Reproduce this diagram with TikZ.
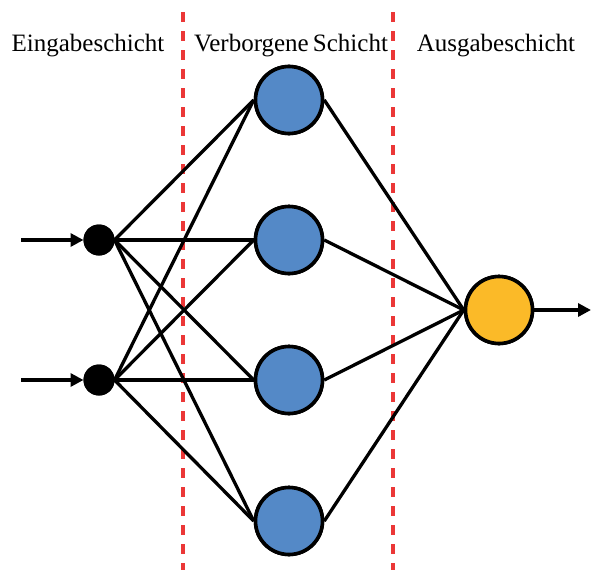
\documentclass[tikz,border=0pt]{standalone}
\usepackage{fontspec}
\setmainfont{Liberation Serif}
\usetikzlibrary{arrows.meta}
\definecolor{hidblue}{RGB}{84,137,199}
\definecolor{outorange}{RGB}{251,186,40}
\definecolor{sepred}{RGB}{235,55,55}
\begin{document}
\begin{tikzpicture}[x=1pt,y=-1pt,
  innode/.style={circle,fill=black,draw=black,line width=1pt,minimum size=30pt,inner sep=0pt},
  hidnode/.style={circle,fill=hidblue,draw=black,line width=3.6pt,minimum size=67pt,inner sep=0pt},
  outnode/.style={circle,fill=outorange,draw=black,line width=3.6pt,minimum size=67pt,inner sep=0pt},
  conn/.style={line width=3.3pt,black},
  arr/.style={line width=3.3pt,black,-{Triangle[length=13pt,width=13pt]}},
  sep/.style={line width=3.4pt,sepred,dash pattern=on 10pt off 9pt},
  lab/.style={font=\fontsize{25}{28}\selectfont,anchor=base,inner sep=0pt}]
\useasboundingbox (0,0) rectangle (591,570);
% separators
\coordinate (s1t) at (183,12); \coordinate (s1b) at (183,570);
\coordinate (s2t) at (393,12); \coordinate (s2b) at (393,570);
\draw[sep] (s1t) -- (s1b);
\draw[sep] (s2t) -- (s2b);
% labels
\node[lab] (l1) at (88,51) {Eingabeschicht};
\node[lab] (l2) at (291,51) {Verborgene\,Schicht};
\node[lab] (l3) at (496,51) {Ausgabeschicht};
% nodes (placed first for anchors)
\node[hidnode] (h1) at (289,100) {};
\node[hidnode] (h2) at (289,240) {};
\node[hidnode] (h3) at (289,380) {};
\node[hidnode] (h4) at (289,521) {};
\node[outnode] (o) at (499,310) {};
\node[innode] (i1) at (99,240) {};
\node[innode] (i2) at (99,380) {};
% connections
\foreach \h in {h1,h2,h3,h4}{
  \draw[conn] (i1.east) -- (\h.west);
  \draw[conn] (i2.east) -- (\h.west);
  \draw[conn] (\h.east) -- (o.west);
}
% redraw nodes on top
\node[hidnode] at (h1) {};
\node[hidnode] at (h2) {};
\node[hidnode] at (h3) {};
\node[hidnode] at (h4) {};
\node[outnode] at (o) {};
\node[innode] at (i1) {};
\node[innode] at (i2) {};
% arrows
\coordinate (a1) at (21,240);
\coordinate (a2) at (21,380);
\coordinate (aout) at (591,310);
\draw[arr] (a1) -- (i1.west);
\draw[arr] (a2) -- (i2.west);
\draw[arr] (o.east) -- (aout);
\end{tikzpicture}
\end{document}
